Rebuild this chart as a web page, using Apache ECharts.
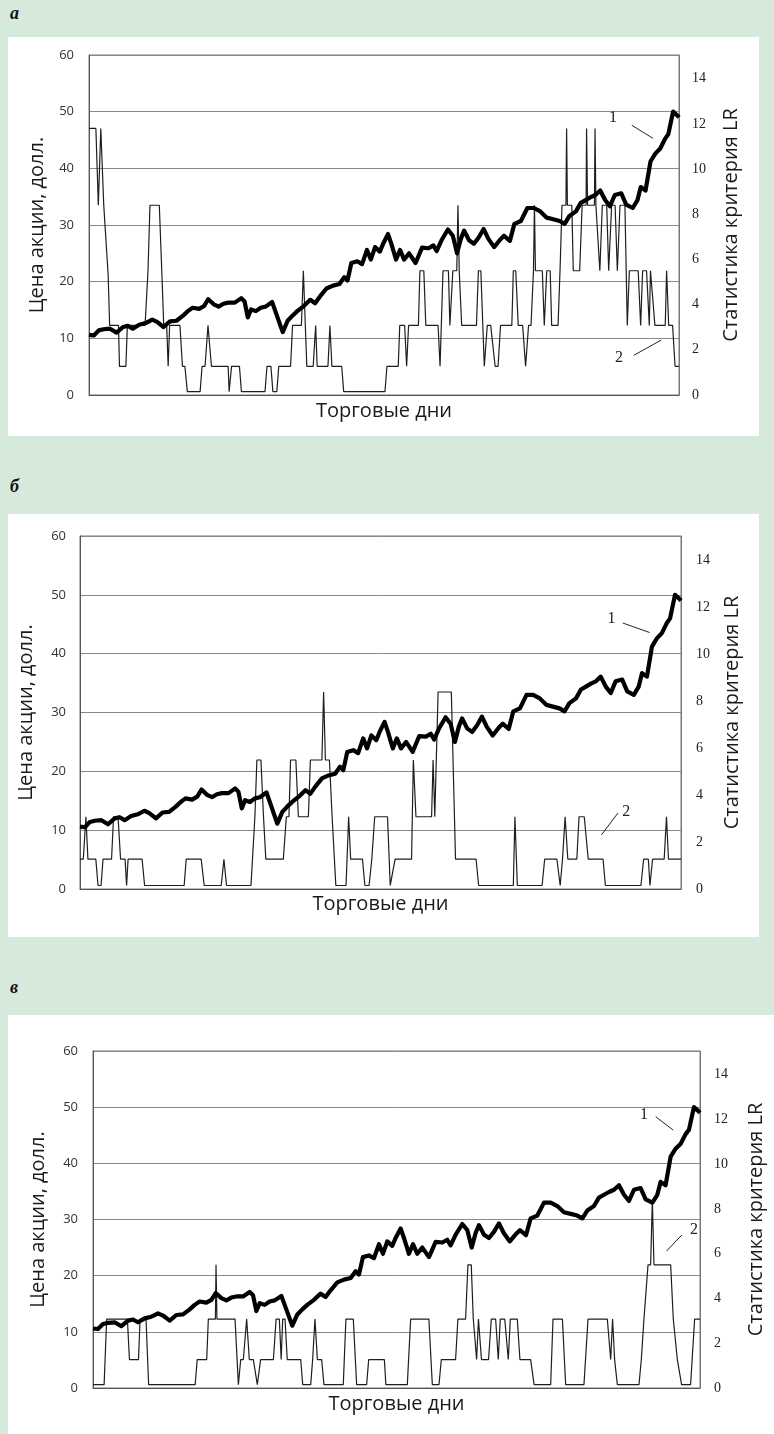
<!DOCTYPE html>
<html lang="ru">
<head>
<meta charset="UTF-8">
<title>Цена акции и статистика LR</title>
<script src="https://cdn.jsdelivr.net/npm/echarts@6.0.0/dist/echarts.min.js"></script>
<style>
  body { margin: 0; }
  #page { position: relative; width: 774px; height: 1434px; background: #d6eadc; overflow: hidden; }
  .lbl { position: absolute; left: 10px; font: italic bold 18px "Liberation Serif", serif; color: #111; line-height: 18px; }
  .box { position: absolute; background: #fff; }
</style>
</head>
<body>
<div id="page">
  <div class="lbl" style="top:4px">а</div>
  <div class="box" id="chartA" style="left:8px;top:37px;width:751px;height:399px"></div>
  <div class="lbl" style="top:477px">б</div>
  <div class="box" id="chartB" style="left:8px;top:514px;width:751px;height:423px"></div>
  <div class="lbl" style="top:978px">в</div>
  <div class="box" id="chartC" style="left:8px;top:1015px;width:766px;height:419px"></div>
</div>

<script>
// торговые дни (ось X) и цена акции, долл. - одна и та же во всех трёх панелях
var priceDays = [0, 4.9, 9.9, 14.8, 21.4, 28, 34.6, 39.5, 44.5, 51.1, 57.7, 64.3, 69.2, 75.8, 82.4, 89, 95.6, 100.5, 105.4, 112,
  117, 121.3, 126.9, 131.8, 136.7, 141.7, 148.3, 154.9, 158.2, 161.5, 164.8, 169.7, 174.6, 179.6, 186.2, 191.1, 197, 202, 206.9, 211.8,
  218.4, 225, 229.9, 234.9, 241.5, 248.1, 254.7, 259.6, 262.9, 266.8, 272.8, 277.7, 282.7, 286.6, 290.9, 295.8, 299.1, 304.1, 307.4, 312.3,
  316.3, 320.5, 325.5, 332.1, 338.7, 345.3, 350.2, 353.5, 358.5, 365, 370, 374.3, 378.2, 381.5, 386.5, 391.4, 396.3, 401.3, 406, 412,
  418, 422, 428, 432.6, 439.2, 445.8, 452.4, 459, 465.5, 472.1, 478.7, 483.7, 488.6, 495.2, 500.1, 505.1, 510, 515, 519.9, 524.9,
  529.8, 534.7, 541.3, 546.3, 552.9, 557.8, 561.1, 566, 571, 575.9, 580.9, 585.8, 589.1, 594, 599, 600];
var price = [10.6, 10.5, 11.4, 11.6, 11.7, 11.0, 12.0, 12.2, 11.7, 12.4, 12.7, 13.3, 12.9, 12.0, 13.0, 13.1, 14.0, 14.8, 15.4, 15.2,
  15.7, 16.9, 16.0, 15.6, 16.1, 16.3, 16.3, 17.1, 16.5, 13.7, 15.1, 14.8, 15.4, 15.6, 16.4, 14.0, 11.1, 13.1, 14.0, 14.8,
  15.7, 16.8, 16.2, 17.4, 18.8, 19.3, 19.6, 20.8, 20.2, 23.3, 23.6, 23.1, 25.6, 23.9, 26.1, 25.3, 26.7, 28.4, 26.7, 23.9,
  25.6, 23.9, 25.0, 23.3, 26.0, 25.9, 26.4, 25.4, 27.3, 29.2, 28.1, 25.0, 27.6, 29.0, 27.3, 26.7, 27.8, 29.3, 27.6, 26.1,
  27.4, 28.1, 27.2, 30.2, 30.7, 33.0, 33.0, 32.4, 31.3, 31.0, 30.7, 30.2, 31.6, 32.4, 33.9, 34.4, 34.9, 35.3, 36.1, 34.4,
  33.3, 35.3, 35.6, 33.6, 33.0, 34.4, 36.7, 36.1, 41.2, 42.6, 43.5, 45.2, 46.0, 50.0, 49.2, 49.0];

// статистика LR: участки [день начала, день конца, значение]
var lrA = [[0,7,11.8],[9.5,9.5,8.4],[12,12,11.8],[15,17,8.4],[19.5,19.5,5.3],[21,30,3.08],[31,37.5,1.27],[39,57,3.08],
  [60,60,5.5],[62,71.5,8.4],[74,74,5.5],[76,79,3.08],[80.5,80.5,1.27],[82,92.5,3.08],[95,97.5,1.27],[100,113,0.15],
  [115,118,1.27],[121,121,3.08],[124.5,141.5,1.27],[142.5,142.5,0.15],[145,153,1.27],[155,179,0.15],[181,185,1.27],
  [187,191,0.15],[193,205,1.27],[207,216,3.08],[218,218,5.5],[220,220,3.08],[221.5,228,1.27],[230.5,230.5,3.08],
  [232,243,1.27],[245,245,3.08],[247,257,1.27],[259,301,0.15],[303,314.5,1.27],[316,321,3.08],[323,323,1.27],
  [325,335,3.08],[336.5,340.5,5.5],[342.5,355,3.08],[357,357,1.27],[360,365.5,5.5],[367,367,3.08],[370,374,5.5],
  [375.2,375.2,8.4],[376.5,377.5,5.5],[379,394,3.08],[396,398.5,5.5],[400.5,400.5,3.08],[402,402,1.27],[405,408.5,3.08],
  [413,416,1.27],[418.5,430,3.08],[431.5,434,5.5],[436.5,441,3.08],[444,444,1.27],[447,449.5,3.08],[452,452,5.5],
  [453,453,8.4],[454,461,5.5],[463,463,3.08],[465.5,469,5.5],[470.5,477,3.08],[479,479,5.5],[481,485,8.4],
  [485.7,485.7,11.8],[486.5,491,8.4],[492.5,499,5.5],[501.5,505.5,8.4],[506,506,11.8],[507,514,8.4],[514.6,514.6,11.8],
  [515.5,516.5,8.4],[519.5,519.5,5.5],[522,526.5,8.4],[528.5,528.5,5.5],[531.5,535,8.4],[537.3,537.3,5.5],[540,545,8.4],
  [547.4,547.4,3.08],[549.5,558.5,5.5],[561,561,3.08],[563,567,5.5],[569.8,569.8,3.08],[571,573,5.5],[575.5,586,3.08],
  [587.4,587.4,5.5],[589.5,593.5,3.08],[596,600,1.27]];
var lrB = [[0,3.3,1.27],[5.9,5.9,3.08],[7.9,15.8,1.27],[18,21,0.15],[23,31.5,1.27],[33.5,38,3.08],[40.5,45,1.27],
  [46.5,46.5,0.15],[48,62,1.27],[64.5,104,0.15],[106,121,1.27],[124,141,0.15],[143.7,143.7,1.27],[146.3,170.7,0.15],
  [174.6,174.6,3.08],[176.6,180.6,5.5],[183.2,183.2,3.08],[185.5,203,1.27],[206,208.6,3.08],[210.2,215.5,5.5],
  [218,228,3.08],[230,241.5,5.5],[243.2,243.2,8.4],[245,249,5.5],[251.7,251.7,3.08],[255.4,265.6,0.15],
  [268.2,268.2,3.08],[270.2,282,1.27],[284.4,288.6,0.15],[291.3,291.3,1.27],[294.2,307,3.08],[309.7,311.3,0.15],
  [314.6,331,1.27],[332.8,332.8,5.5],[335.4,351,3.08],[352.5,352.5,5.5],[354.2,354.2,3.08],[357.5,370.7,8.4],
  [374.9,395.4,1.27],[398,432.6,0.15],[434.2,434.2,3.08],[436.6,461.3,0.15],[463.9,476.1,1.27],[479.4,479.4,0.15],
  [481.7,481.7,1.27],[484.3,484.3,3.08],[487,496,1.27],[498.2,503.4,3.08],[507.4,522.2,1.27],[524.5,560,0.15],
  [562.7,567.4,1.27],[569,569,0.15],[571.6,583.2,1.27],[585.5,585.5,3.08],[587.5,600,1.27]];
var lrC = [[0,11,0.15],[13.5,34,3.08],[36,45,1.27],[46.5,52.4,3.08],[55,101,0.15],[103,112.4,1.27],[114,121,3.08],
  [121.6,121.6,5.5],[122.5,140.4,3.08],[143.7,143.7,0.15],[146,148.6,1.27],[151.9,151.9,3.08],[154.5,158.5,1.27],
  [162.4,162.4,0.15],[165.7,178.3,1.27],[181,184.2,3.08],[186,186,1.27],[187.5,189.8,3.08],[192,205.3,1.27],
  [207.3,215.2,0.15],[217.1,217.1,1.27],[219.4,219.4,3.08],[221.8,226,1.27],[228.3,247.4,0.15],[250,257.3,3.08],
  [260.6,270.5,0.15],[272.5,288,1.27],[289.5,310.7,0.15],[314,332,3.08],[335.4,342,0.15],[344.3,358.4,1.27],
  [360.7,368.3,3.08],[370.6,373.9,5.5],[375.9,377,3.08],[379.2,379.2,1.27],[381,382,3.08],[384,391,1.27],
  [393.7,398,3.08],[400.6,400.6,1.27],[402.6,407,3.08],[410.5,410.5,1.27],[412.5,419.4,3.08],[422,432.6,1.27],
  [436,452.4,0.15],[454.7,464,3.08],[467.2,485.3,0.15],[489.3,508.4,3.08],[511.7,511.7,1.27],[513.6,513.6,3.08],
  [515.6,515.6,1.27],[518.3,539.7,0.15],[542,542,1.27],[544.6,544.6,3.08],[548.6,551.2,5.5],[552.9,552.9,8.4],
  [554.5,571,5.5],[573.6,573.6,3.08],[577.6,577.6,1.27],[581.8,590.7,0.15],[594.7,600,3.08]];

// подписи "1" и "2" со стрелками, в координатах (день, цена)
var notesA = [['1', [533, 48.9], [552, 47.6], [573.5, 45.3]], ['2', [539, 6.5], [554, 7.0], [582, 9.7]]];
var notesB = [['1', [530.5, 46.0], [542, 45.2], [568.6, 43.6]], ['2', [545.3, 13.1], [520.6, 9.2], [537, 12.9]]];
var notesC = [['1', [544.6, 48.6], [556.2, 48.3], [573.6, 45.9]], ['2', [594, 28.1], [567, 24.4], [581.9, 27.2]]];

function runsToLine(runs) {
  var pts = [];
  runs.forEach(function (r) {
    pts.push([r[0], r[2]]);
    if (r[1] > r[0]) pts.push([r[1], r[2]]);
  });
  return pts;
}

function makeChart(id, grid, gaps, runs, notes) {
  var chart = echarts.init(document.getElementById(id));
  var pricePts = priceDays.map(function (d, i) { return [d, price[i]]; });
  chart.setOption({
    animation: false,
    grid: { left: grid[0], right: grid[1], top: grid[2], bottom: grid[3], show: true,
      borderColor: '#777', borderWidth: 1, backgroundColor: 'transparent' },
    xAxis: {
      type: 'value', min: 0, max: 600,
      name: 'Торговые дни', nameLocation: 'middle', nameGap: gaps[4],
      nameTextStyle: { fontFamily: 'Open Sans', fontSize: 20, color: '#1a1a1a' },
      axisLine: { lineStyle: { color: '#555' } },
      axisTick: { show: false }, axisLabel: { show: false }, splitLine: { show: false }
    },
    yAxis: [{
      type: 'value', min: 0, max: 60, interval: 10,
      name: 'Цена акции, долл.', nameLocation: 'middle', nameRotate: 90, nameGap: gaps[0],
      nameTextStyle: { fontFamily: 'Open Sans', fontSize: 20, color: '#1a1a1a' },
      axisLine: { show: true, lineStyle: { color: '#555' } },
      axisTick: { show: false },
      axisLabel: { margin: gaps[1], fontFamily: 'Open Sans', fontSize: 13, color: '#333' },
      splitLine: { lineStyle: { color: '#8a8a8a', width: 1 } }
    }, {
      type: 'value', min: 0, max: 15.05, interval: 2, position: 'right',
      name: 'Статистика критерия LR', nameLocation: 'middle', nameRotate: 90, nameGap: gaps[2],
      nameTextStyle: { fontFamily: 'Open Sans', fontSize: 20, color: '#1a1a1a' },
      axisLine: { show: true, lineStyle: { color: '#777' } },
      axisTick: { show: false },
      axisLabel: { margin: gaps[3], fontFamily: 'Liberation Serif', fontSize: 14, color: '#222', showMaxLabel: false },
      splitLine: { show: false }
    }],
    series: [{
      type: 'line', yAxisIndex: 1, data: runsToLine(runs), showSymbol: false,
      lineStyle: { color: '#1e1e1e', width: 1.2 }, z: 2
    }, {
      type: 'line', yAxisIndex: 0, data: pricePts, showSymbol: false,
      lineStyle: { color: '#000', width: 4.2, join: 'round' }, z: 3,
      markLine: {
        silent: true, symbol: ['none', 'none'], label: { show: false },
        lineStyle: { color: '#222', width: 1, type: 'solid' },
        data: notes.map(function (n) { return [{ coord: n[2] }, { coord: n[3] }]; })
      },
      markPoint: {
        silent: true, symbol: 'circle', symbolSize: 1, itemStyle: { color: 'rgba(0,0,0,0)' },
        label: { show: true, position: 'inside', formatter: '{b}', fontFamily: 'Liberation Serif', fontSize: 16, color: '#222' },
        data: notes.map(function (n) { return { name: n[0], coord: n[1] }; })
      }
    }]
  });
}

makeChart('chartA', [81, 80, 18, 41], [42, 15, 42, 13, 6], lrA, notesA);
makeChart('chartB', [66, 78, 22, 48], [44, 14, 41, 15, 5], lrB, notesB);
makeChart('chartC', [85, 74, 36, 46], [45, 15, 46, 14, 6], lrC, notesC);
</script>
</body>
</html>
